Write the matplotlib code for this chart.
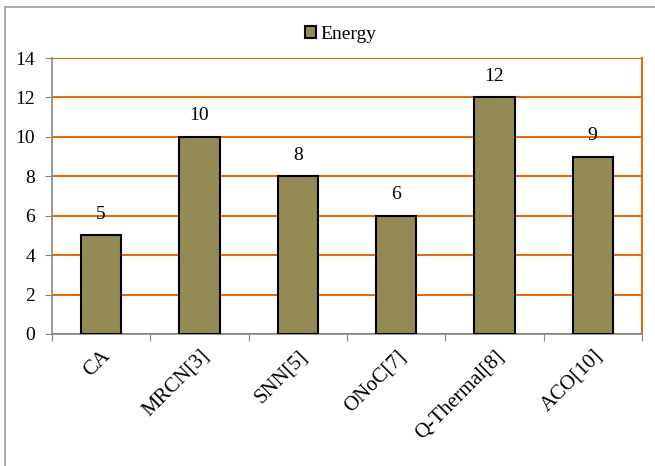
import matplotlib
matplotlib.use("Agg")
import matplotlib.pyplot as plt
from matplotlib.lines import Line2D

categories = ["CA", "MRCN[3]", "SNN[5]", "ONoC[7]", "Q-Thermal[8]", "ACO[10]"]
energy = [5, 10, 8, 6, 12, 9]
y_ticks = [0, 2, 4, 6, 8, 10, 12, 14]

bar_color = "#948A54"
grid_color = "#E46C0A"
axis_color = "#868686"

plt.rcParams["font.family"] = ["Liberation Serif", "DejaVu Serif"]

fig = plt.figure(figsize=(6.55, 4.66), dpi=100)
ax = fig.add_axes([0.0794, 0.2833, 0.9006, 0.5922])

x = list(range(len(categories)))
bars = ax.bar(x, energy, width=0.41, color=bar_color, edgecolor="black",
              linewidth=1.5, zorder=3, label="Energy")

for xi, v in zip(x, energy):
    ax.annotate(str(v), (xi, v), xytext=(0, 9), textcoords="offset points",
                ha="center", va="bottom", fontsize=14)

ax.set_xlim(-0.5, len(categories) - 0.5)
ax.set_ylim(0, 14)
ax.set_yticks(y_ticks)
ax.set_yticklabels([str(t) for t in y_ticks], fontsize=14)
ax.yaxis.grid(True, color=grid_color, linewidth=1.5, zorder=1)
ax.set_axisbelow(True)

# category boundaries carry the ticks, labels sit at the centres
ax.set_xticks([i - 0.5 for i in range(len(categories) + 1)])
ax.set_xticklabels([])
ax.set_xticks(x, minor=True)
ax.set_xticklabels(categories, minor=True, rotation=45, ha="right",
                   rotation_mode="anchor", fontsize=15)
ax.tick_params(axis="x", which="minor", length=0, pad=9)
ax.tick_params(axis="x", which="major", length=5, color=axis_color, direction="out")
ax.tick_params(axis="y", length=5, color=axis_color, direction="out", pad=7)

for side in ("left", "bottom"):
    ax.spines[side].set_color(axis_color)
    ax.spines[side].set_linewidth(1.2)
ax.spines["top"].set_visible(False)
ax.spines["right"].set_color(grid_color)
ax.spines["right"].set_linewidth(1.5)

fig.legend(handles=[bars], labels=["Energy"], loc="center",
           bbox_to_anchor=(0.52, 0.927), frameon=False, fontsize=14,
           handlelength=0.6, handleheight=0.6, handletextpad=0.2)

# chart-area frame
fig.add_artist(Line2D([0.0076, 0.0076], [0.0, 0.985], color="#A0A0A0",
                      linewidth=1.2, transform=fig.transFigure))
fig.add_artist(Line2D([0.0076, 1.0], [0.985, 0.985], color="#A0A0A0",
                      linewidth=1.2, transform=fig.transFigure))

fig.savefig("out.png", dpi=100)
